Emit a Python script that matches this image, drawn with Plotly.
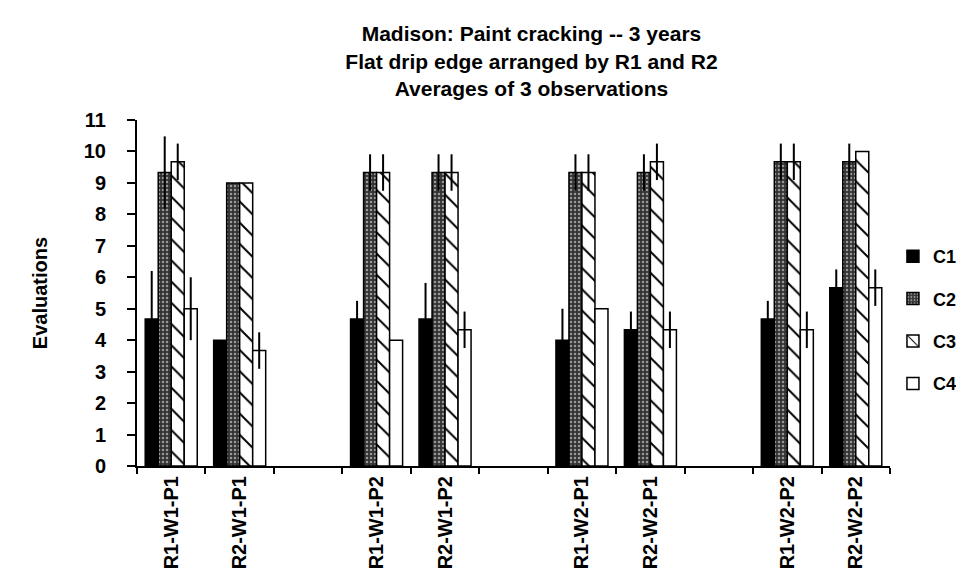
import plotly.graph_objects as go

# ---- data ----
categories = ["R1-W1-P1", "R2-W1-P1", "R1-W1-P2", "R2-W1-P2",
              "R1-W2-P1", "R2-W2-P1", "R1-W2-P2", "R2-W2-P2"]
# axis order with empty spacer slots between the pairs
axis_order = ["R1-W1-P1", "R2-W1-P1", " ",
              "R1-W1-P2", "R2-W1-P2", "  ",
              "R1-W2-P1", "R2-W2-P1", "   ",
              "R1-W2-P2", "R2-W2-P2"]

series_names = ["C1", "C2", "C3", "C4"]
c1 = [4.67, 4.00, 4.67, 4.67, 4.00, 4.33, 4.67, 5.67]
c2 = [9.33, 9.00, 9.33, 9.33, 9.33, 9.33, 9.67, 9.67]
c3 = [9.67, 9.00, 9.33, 9.33, 9.33, 9.67, 9.67, 10.00]
c4 = [5.00, 3.67, 4.00, 4.33, 5.00, 4.33, 4.33, 5.67]
c1_err = [1.53, 0.00, 0.58, 1.15, 1.00, 0.58, 0.58, 0.58]
c2_err = [1.15, 0.00, 0.58, 0.58, 0.58, 0.58, 0.58, 0.58]
c3_err = [0.58, 0.00, 0.58, 0.58, 0.58, 0.58, 0.58, 0.00]
c4_err = [1.00, 0.58, 0.00, 0.58, 0.00, 0.58, 0.58, 0.58]

title_lines = ["Madison: Paint cracking -- 3 years",
               "Flat drip edge arranged by R1 and R2",
               "Averages of 3 observations"]
y_title = "Evaluations"
y_ticks = list(range(0, 12))

# ---- styles ----
FONT = "Arial, 'Liberation Sans', sans-serif"
BOLD20 = dict(family=FONT, size=20, color="black", weight="bold")
styles = [
    dict(color="black", pattern=None),
    dict(color="#333333", pattern=dict(shape=".", bgcolor="#333333", fgcolor="#9a9a9a",
                                       size=4, solidity=0.3, fillmode="replace")),
    dict(color="white", pattern=dict(shape="\\", bgcolor="white", fgcolor="black",
                                     size=15, solidity=0.13, fillmode="replace")),
    dict(color="white", pattern=None),
]

fig = go.Figure()
for name, vals, errs, st in zip(series_names, [c1, c2, c3, c4],
                                [c1_err, c2_err, c3_err, c4_err], styles):
    marker = dict(color=st["color"], line=dict(color="black", width=1.5))
    if st["pattern"] is not None:
        marker["pattern"] = st["pattern"]
    fig.add_trace(go.Bar(
        name=name, x=categories, y=vals, marker=marker,
        legendgroup=name,
        error_y=dict(type="data", array=errs, visible=True,
                     color="black", thickness=2, width=0),
    ))

fig.update_layout(
    width=964, height=584,
    paper_bgcolor="white", plot_bgcolor="white",
    font=BOLD20,
    barmode="group", bargap=0.24, bargroupgap=0,
    margin=dict(l=129, r=82, t=112, b=126),
    title=dict(text="<br>".join(title_lines),
               x=0.543, xanchor="center", xref="container",
               y=0.943, yanchor="top", yref="container",
               font=dict(family=FONT, size=21, color="black", weight="bold")),
    showlegend=True,
    legend=dict(x=0.918, xanchor="left", xref="container",
                y=0.422, yanchor="middle", yref="paper",
                font=dict(family=FONT, size=18, color="black", weight="bold"),
                tracegroupgap=16, bgcolor="rgba(0,0,0,0)",
                itemwidth=30),
    xaxis=dict(
        type="category", categoryorder="array", categoryarray=axis_order,
        range=[-0.5, len(axis_order) - 0.5], automargin=False,
        showline=True, linecolor="black", linewidth=2,
        ticks="outside", tickson="boundaries", ticklen=6, tickwidth=1.5,
        tickcolor="black", tickangle=-90, showgrid=False, zeroline=False,
        tickfont=BOLD20, ticklabelstandoff=0,
    ),
    yaxis=dict(
        range=[0, 11], tickvals=y_ticks, automargin=False,
        showline=True, linecolor="black", linewidth=2,
        ticks="outside", ticklen=8, tickwidth=1.5, tickcolor="black",
        showgrid=False, zeroline=False,
        tickfont=BOLD20, ticklabelstandoff=17,
        title=dict(text=y_title, standoff=31, font=BOLD20),
    ),
)

fig.write_html("out.html")
